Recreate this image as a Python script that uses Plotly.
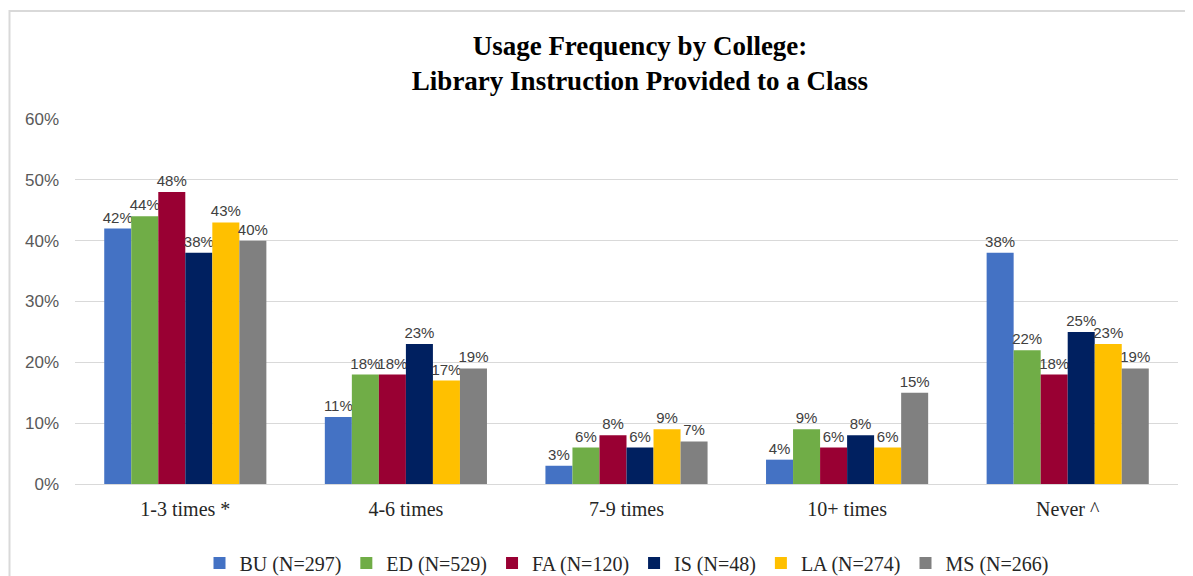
import plotly.graph_objects as go

categories = ["1-3 times *", "4-6 times", "7-9 times", "10+ times", "Never ^"]
series_names = ["BU (N=297)", "ED (N=529)", "FA (N=120)", "IS (N=48)", "LA (N=274)", "MS (N=266)"]
BU = [0.42, 0.11, 0.03, 0.04, 0.38]
ED = [0.44, 0.18, 0.06, 0.09, 0.22]
FA = [0.48, 0.18, 0.08, 0.06, 0.18]
IS = [0.38, 0.23, 0.06, 0.08, 0.25]
LA = [0.43, 0.17, 0.09, 0.06, 0.23]
MS = [0.40, 0.19, 0.07, 0.15, 0.19]
series_values = [BU, ED, FA, IS, LA, MS]
colors = ["#4472C4", "#70AD47", "#990033", "#002060", "#FFC000", "#808080"]
y_ticks = [0, 0.1, 0.2, 0.3, 0.4, 0.5, 0.6]
y_tick_labels = ["0%", "10%", "20%", "30%", "40%", "50%", "60%"]

# page has an 8px body margin, so figure coordinates = page coordinates - 8
W, H = 1185, 568
ml, mr, mt, mb = 67, 15, 111, 92

fig = go.Figure()
for name, vals, col in zip(series_names, series_values, colors):
    fig.add_trace(go.Bar(
        x=categories, y=vals, name=name, marker_color=col, marker_line_width=0,
        text=[f"{round(v*100)}%" for v in vals], textposition="outside",
        textfont=dict(family="Liberation Sans, Arial", size=15, color="#404040"),
        constraintext="none", cliponaxis=False,
    ))

pw = W - ml - mr
ph = H - mt - mb
fig.add_shape(type="rect", xref="paper", yref="paper",
              x0=(1.5 - ml) / pw, x1=(W + 20 - ml) / pw,
              y0=-(H + 20 - mt - ph) / ph, y1=1 + (mt - 3) / ph,
              line=dict(color="#D9D9D9", width=2), fillcolor="rgba(0,0,0,0)", layer="below")

fig.update_layout(
    width=W, height=H,
    margin=dict(l=ml, r=mr, t=mt, b=mb, autoexpand=False),
    paper_bgcolor="white", plot_bgcolor="white",
    barmode="group", bargap=0.265, bargroupgap=0,
    title=dict(text="<b>Usage Frequency by College:<br>Library Instruction Provided to a Class</b>",
               x=632 / W, xanchor="center", y=1 - 47 / H, yanchor="top", automargin=False,
               font=dict(family="Liberation Serif, Times New Roman", size=27, color="black")),
    yaxis=dict(range=[0, 0.6], tickvals=y_ticks, ticktext=y_tick_labels,
               showgrid=True, gridcolor="#D9D9D9", gridwidth=1, zeroline=False,
               showline=False, ticks="", ticklabelstandoff=15, automargin=False,
               tickfont=dict(family="Liberation Sans, Arial", size=17, color="#595959")),
    xaxis=dict(showline=True, linecolor="#D9D9D9", linewidth=1, ticks="",
               ticklabelstandoff=7, automargin=False,
               tickfont=dict(family="Liberation Serif, Times New Roman", size=20, color="#262626")),
    legend=dict(orientation="h", x=0.5, xanchor="center", y=-(555 - mt - ph) / ph, yanchor="middle",
                font=dict(family="Liberation Serif, Times New Roman", size=20, color="#262626"),
                itemwidth=30, traceorder="normal"),
    showlegend=True,
)

fig.write_html("out.html")
